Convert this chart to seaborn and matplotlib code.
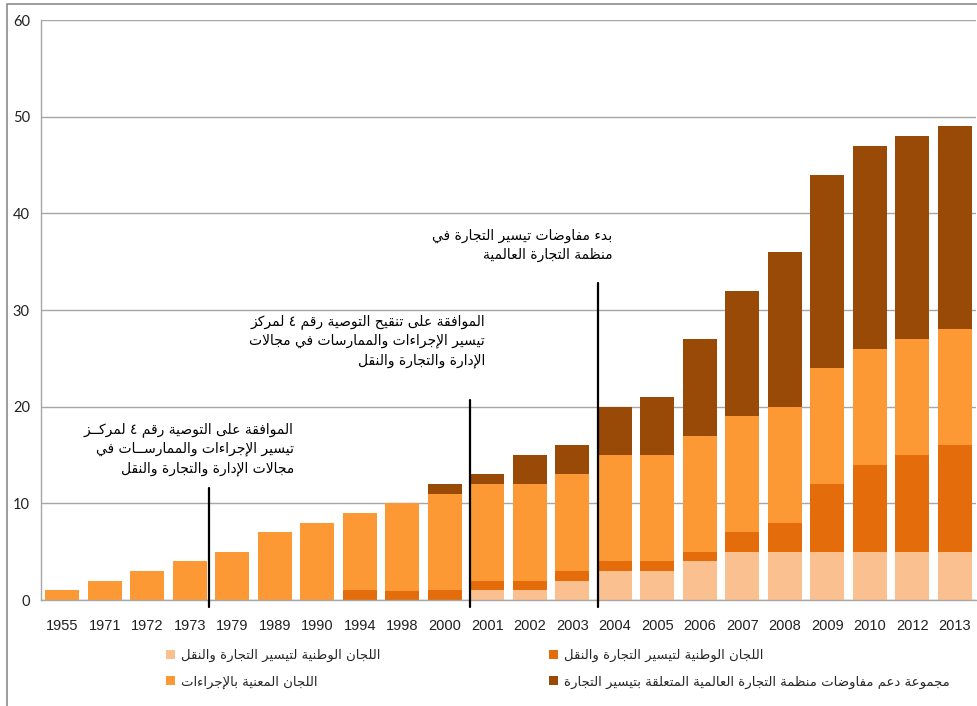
import matplotlib
matplotlib.use("Agg")
import matplotlib.pyplot as plt
from matplotlib import font_manager
from matplotlib.patches import Patch, Rectangle
import seaborn as sns
import numpy as np

# ---------------- data ----------------
years = ["1955", "1971", "1972", "1973", "1979", "1989", "1990", "1994", "1998", "2000",
         "2001", "2002", "2003", "2004", "2005", "2006", "2007", "2008", "2009", "2010",
         "2012", "2013"]
national_light = [0, 0, 0, 0, 0, 0, 0, 0, 0, 0, 1, 1, 2, 3, 3, 4, 5, 5, 5, 5, 5, 5]
national_dark = [0, 0, 0, 0, 0, 0, 0, 1, 0.9, 1, 1, 1, 1, 1, 1, 1, 2, 3, 7, 9, 10, 11]
procedures = [1, 2, 3, 4, 5, 7, 8, 8, 9.1, 10, 10, 10, 10, 11, 11, 12, 12, 12, 12, 12, 12, 12]
wto_group = [0, 0, 0, 0, 0, 0, 0, 0, 0, 1, 1, 3, 3, 5, 6, 10, 13, 16, 20, 21, 21, 21]

labels = [
    "اللجان الوطنية لتيسير التجارة والنقل",
    "اللجان الوطنية لتيسير التجارة والنقل",
    "اللجان المعنية بالإجراءات",
    "مجموعة دعم مفاوضات منظمة التجارة العالمية المتعلقة بتيسير التجارة",
]
annot_texts = [
    "الموافقة على التوصية رقم ٤ لمركــز\nتيسير الإجراءات والممارســات في\nمجالات الإدارة والتجارة والنقل",
    "الموافقة على تنقيح التوصية رقم ٤ لمركز\nتيسير الإجراءات والممارسات في مجالات\nالإدارة والتجارة والنقل",
    "بدء مفاوضات تيسير التجارة في\nمنظمة التجارة العالمية",
]

colors = ["#FAC090", "#E46C0A", "#FD9934", "#9A4A07"]

# ---------------- minimal Arabic shaping ----------------
_DUAL = {0x0626: 0xFE89, 0x0628: 0xFE8F, 0x062A: 0xFE95, 0x062B: 0xFE99, 0x062C: 0xFE9D,
         0x062D: 0xFEA1, 0x062E: 0xFEA5, 0x0633: 0xFEB1, 0x0634: 0xFEB5, 0x0635: 0xFEB9,
         0x0636: 0xFEBD, 0x0637: 0xFEC1, 0x0638: 0xFEC5, 0x0639: 0xFEC9, 0x063A: 0xFECD,
         0x0641: 0xFED1, 0x0642: 0xFED5, 0x0643: 0xFED9, 0x0644: 0xFEDD, 0x0645: 0xFEE1,
         0x0646: 0xFEE5, 0x0647: 0xFEE9, 0x064A: 0xFEF1}
_RIGHT = {0x0622: 0xFE81, 0x0623: 0xFE83, 0x0624: 0xFE85, 0x0625: 0xFE87, 0x0627: 0xFE8D,
          0x0629: 0xFE93, 0x062F: 0xFEA9, 0x0630: 0xFEAB, 0x0631: 0xFEAD, 0x0632: 0xFEAF,
          0x0648: 0xFEED, 0x0649: 0xFEEF}
FORMS = {}
for k, b in _DUAL.items():
    FORMS[chr(k)] = (chr(b), chr(b + 1), chr(b + 2), chr(b + 3))
for k, b in _RIGHT.items():
    FORMS[chr(k)] = (chr(b), chr(b + 1), None, None)
FORMS["\u0621"] = ("\uFE80", None, None, None)
FORMS["\u0640"] = ("\u0640",) * 4
DUALSET = set(chr(k) for k in _DUAL) | {"\u0640"}
JOINABLE = set(FORMS) - {"\u0621"}
LAMALEF = {"\u0622": 0xFEF5, "\u0623": 0xFEF7, "\u0625": 0xFEF9, "\u0627": 0xFEFB}


def shape_line(s):
    out = []
    i, n = 0, len(s)
    while i < n:
        c = s[i]
        if c not in FORMS:
            out.append(c)
            i += 1
            continue
        prev_j = i > 0 and s[i - 1] in DUALSET
        if c == "\u0644" and i + 1 < n and s[i + 1] in LAMALEF:
            b = LAMALEF[s[i + 1]]
            out.append(chr(b + 1 if prev_j else b))
            i += 2
            continue
        next_j = c in DUALSET and i + 1 < n and s[i + 1] in JOINABLE
        iso, fin, ini, med = FORMS[c]
        if prev_j and next_j:
            f = med
        elif prev_j:
            f = fin
        elif next_j:
            f = ini
        else:
            f = iso
        out.append(f or iso)
        i += 1
    return "".join(out)[::-1]


def ar(s):
    return "\n".join(shape_line(l) for l in s.split("\n"))


def pick_font(candidates, default="DejaVu Sans"):
    for name in candidates:
        try:
            font_manager.findfont(font_manager.FontProperties(family=name),
                                  fallback_to_default=False)
            return name
        except Exception:
            continue
    return default


AR_FONT = pick_font(["DejaVu Sans Condensed", "DejaVu Sans"])
YEAR_FONT = pick_font(["Liberation Sans Narrow", "Liberation Sans"])
NUM_FONT = pick_font(["Lato", "DejaVu Sans"])

# ---------------- figure ----------------
sns.set_theme(style="white")
plt.rcParams["font.family"] = ["DejaVu Sans"]

fig = plt.figure(figsize=(9.77, 7.06), dpi=100)
ax = fig.add_axes([41 / 977, 1 - 600 / 706, 935 / 977, 580 / 706])

bottom = np.zeros(len(years))
for vals, col in zip([national_light, national_dark, procedures, wto_group], colors):
    sns.barplot(x=years, y=vals, bottom=bottom.copy(), color=col, width=0.8,
                errorbar=None, ax=ax, saturation=1, edgecolor="none", linewidth=0)
    bottom = bottom + np.array(vals, dtype=float)

ax.set_ylim(0, 60)
ax.set_xlim(-0.5, len(years) - 0.5)
ax.set_yticks(range(0, 61, 10))
ax.yaxis.grid(True, color="#A6A6A6", linewidth=1)
ax.set_axisbelow(True)
for s in ["top", "right"]:
    ax.spines[s].set_visible(False)
for s in ["left", "bottom"]:
    ax.spines[s].set_color("#A6A6A6")
    ax.spines[s].set_linewidth(1)
ax.tick_params(axis="y", length=0, pad=8, labelsize=10.5, labelcolor="#222222")
ax.tick_params(axis="x", length=0, pad=14, labelsize=10.5, labelcolor="#222222")
for t in ax.get_yticklabels():
    t.set_fontfamily([NUM_FONT, "DejaVu Sans"])
for t in ax.get_xticklabels():
    t.set_fontfamily([YEAR_FONT, "DejaVu Sans"])
ax.set_xlabel("")
ax.set_ylabel("")

# event lines
line_x = [3.45, 9.6, 12.6]
line_top = [11.6, 20.7, 32.8]
for lx, lt in zip(line_x, line_top):
    ax.plot([lx, lx], [-0.75, lt], color="black", linewidth=1.6, clip_on=False, zorder=5)

# annotation texts (right-aligned)
ann_x = [5.45, 9.95, 12.95]
ann_y = [18.4, 29.6, 38.4]
for txt, x, y in zip(annot_texts, ann_x, ann_y):
    ax.text(x, y, ar(txt), ha="right", va="top", multialignment="right",
            fontsize=10, linespacing=1.45, color="black", family=AR_FONT)

# legends
handles = [Patch(facecolor=c, edgecolor="none") for c in colors]
leg_kw = dict(loc="upper left", frameon=False, fontsize=9.5, handlelength=0.7,
              handleheight=0.7, handletextpad=0.4, labelspacing=1.0,
              borderaxespad=0, borderpad=0, prop={"family": AR_FONT, "size": 9.5})
leg_kw.pop("fontsize")
fig.legend([handles[0], handles[2]], [ar(labels[0]), ar(labels[2])],
           bbox_to_anchor=(166 / 977, 1 - 649 / 706), **leg_kw)
fig.legend([handles[1], handles[3]], [ar(labels[1]), ar(labels[3])],
           bbox_to_anchor=(549 / 977, 1 - 649 / 706), **leg_kw)

# outer frame
fig.patches.append(Rectangle((7 / 977, -0.01), 1.0, 1 - 4 / 706 + 0.01,
                             transform=fig.transFigure, fill=False,
                             edgecolor="#8C8C8C", linewidth=1.2))

fig.savefig("out.png", dpi=100)
